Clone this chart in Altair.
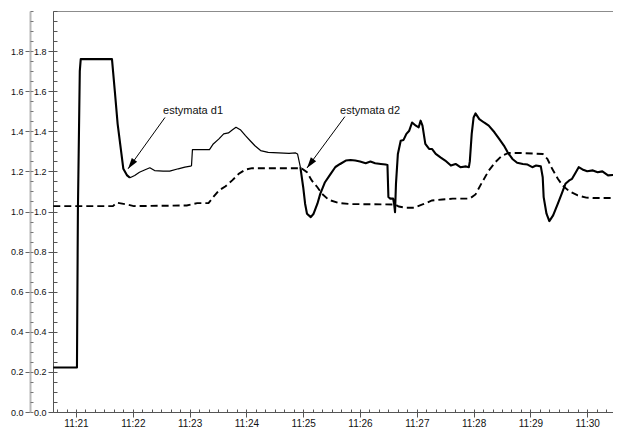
import math
import altair as alt
import pandas as pd

# ---------------- data ----------------
# solid line: estimate
solid_time = [
    "11:20:36", "11:21:01", "11:21:02", "11:21:04", "11:21:05", "11:21:38", "11:21:41", "11:21:44",
    "11:21:48", "11:21:50", "11:21:54", "11:21:57", "11:22:02", "11:22:07", "11:22:13", "11:22:18",
    "11:22:23", "11:22:32", "11:22:39", "11:22:48", "11:22:55", "11:23:01", "11:23:02", "11:23:03",
    "11:23:21", "11:23:25", "11:23:31", "11:23:36", "11:23:41", "11:23:45", "11:23:49", "11:23:54",
    "11:23:59", "11:24:04", "11:24:09", "11:24:15", "11:24:23", "11:24:34", "11:24:45", "11:24:52",
    "11:24:54", "11:24:57", "11:25:00", "11:25:02", "11:25:04", "11:25:08", "11:25:11", "11:25:15",
    "11:25:18", "11:25:23", "11:25:29", "11:25:34", "11:25:39", "11:25:45", "11:25:50", "11:25:55",
    "11:26:00", "11:26:06", "11:26:11", "11:26:16", "11:26:22", "11:26:27", "11:26:29", "11:26:30",
    "11:26:32", "11:26:35", "11:26:36", "11:26:37", "11:26:38", "11:26:40", "11:26:43", "11:26:46",
    "11:26:49", "11:26:52", "11:26:55", "11:26:59", "11:27:02", "11:27:04", "11:27:06", "11:27:09",
    "11:27:13", "11:27:16", "11:27:20", "11:27:25", "11:27:30", "11:27:36", "11:27:41", "11:27:46",
    "11:27:52", "11:27:55", "11:27:56", "11:27:58", "11:28:00", "11:28:02", "11:28:06", "11:28:11",
    "11:28:16", "11:28:22", "11:28:27", "11:28:32", "11:28:36", "11:28:41", "11:28:46", "11:28:52",
    "11:28:57", "11:29:02", "11:29:06", "11:29:11", "11:29:13", "11:29:14", "11:29:17", "11:29:20",
    "11:29:24", "11:29:29", "11:29:33", "11:29:37", "11:29:41", "11:29:44", "11:29:48", "11:29:51",
    "11:29:55", "11:30:00", "11:30:06", "11:30:11", "11:30:16", "11:30:22", "11:30:27", "11:30:32",
    "11:30:37",
]
solid_value = [
    0.222, 0.222, 1.00, 1.70, 1.760, 1.760, 1.600, 1.436,
    1.287, 1.213, 1.180, 1.168, 1.180, 1.196, 1.208, 1.218,
    1.204, 1.201, 1.201, 1.213, 1.221, 1.226, 1.228, 1.309,
    1.309, 1.337, 1.362, 1.387, 1.392, 1.406, 1.420, 1.406,
    1.378, 1.353, 1.328, 1.304, 1.295, 1.292, 1.290, 1.292,
    1.287, 1.221, 1.121, 1.039, 0.989, 0.972, 0.989, 1.039,
    1.088, 1.146, 1.188, 1.222, 1.237, 1.254, 1.257, 1.254,
    1.249, 1.241, 1.249, 1.241, 1.237, 1.234, 1.232, 1.072,
    1.064, 1.064, 1.039, 0.997, 1.138, 1.287, 1.353, 1.357,
    1.387, 1.403, 1.444, 1.428, 1.420, 1.453, 1.428, 1.337,
    1.312, 1.312, 1.287, 1.270, 1.254, 1.229, 1.237, 1.221,
    1.225, 1.221, 1.250, 1.387, 1.469, 1.489, 1.461, 1.444,
    1.428, 1.395, 1.362, 1.329, 1.295, 1.262, 1.243, 1.237,
    1.234, 1.221, 1.229, 1.225, 1.171, 1.072, 0.989, 0.952,
    0.981, 1.039, 1.088, 1.138, 1.155, 1.163, 1.196, 1.221,
    1.210, 1.201, 1.205, 1.196, 1.200, 1.180, 1.182, 1.184,
    1.171,
]
# the solid trace is drawn thinner between these two instants
thin_from, thin_to = "11:21:57", "11:24:57"

# dashed line
dash_time = [
    "11:20:36", "11:21:39", "11:21:43", "11:21:54", "11:22:01", "11:22:57", "11:23:08", "11:23:20",
    "11:23:25", "11:23:31", "11:23:38", "11:23:45", "11:23:52", "11:23:59", "11:24:06", "11:24:58",
    "11:25:04", "11:25:09", "11:25:15", "11:25:20", "11:25:27", "11:25:38", "11:25:50", "11:26:37",
    "11:26:41", "11:26:48", "11:26:57", "11:27:06", "11:27:16", "11:27:27", "11:27:38", "11:27:55",
    "11:27:57", "11:28:02", "11:28:09", "11:28:16", "11:28:23", "11:28:30", "11:28:37", "11:28:48",
    "11:29:13", "11:29:18", "11:29:23", "11:29:29", "11:29:34", "11:29:41", "11:29:50", "11:29:59",
    "11:30:09", "11:30:37",
]
dash_value = [
    1.027, 1.027, 1.044, 1.035, 1.027, 1.030, 1.042, 1.042,
    1.072, 1.105, 1.126, 1.155, 1.188, 1.209, 1.216, 1.216,
    1.196, 1.155, 1.121, 1.088, 1.058, 1.042, 1.037, 1.035,
    1.025, 1.019, 1.019, 1.035, 1.055, 1.060, 1.064, 1.064,
    1.068, 1.085, 1.146, 1.204, 1.246, 1.279, 1.292, 1.292,
    1.287, 1.262, 1.213, 1.163, 1.130, 1.101, 1.080, 1.069,
    1.067, 1.067,
]

y_major = [0.0, 0.2, 0.4, 0.6, 0.8, 1.0, 1.2, 1.4, 1.6, 1.8]
x_major = [21, 22, 23, 24, 25, 26, 27, 28, 29, 30]

ann_text = ["estymata d1", "estymata d2"]
ann_text_time = ["11:22:32", "11:25:39"]
ann_text_value = [1.485, 1.485]
arrow_from_time = ["11:22:34", "11:25:44"]
arrow_from_value = [1.469, 1.473]
arrow_to_time = ["11:21:55", "11:25:04"]
arrow_to_value = [1.213, 1.217]


def to_min(s):
    h, m, sec = (int(p) for p in s.split(":"))
    return (h - 11) * 60 + m + sec / 60.0


# ---------------- layout / style ----------------
# whole chart is 605 px wide (the page body width), so it is never shrunk
W, H = 560, 401
PX_PER_MIN = 56.8
X_DOM = [20.595, 20.595 + W / PX_PER_MIN]
Y_DOM = [0.0, 2.0]
FONT = "Liberation Sans"
OUTER_OFF = 23

xs = alt.Scale(domain=X_DOM, nice=False, zero=False)
ys = alt.Scale(domain=Y_DOM, nice=False, zero=False)

# solid data split into thick / thin parts
tf, tt = to_min(thin_from), to_min(thin_to)
rows = []
for t, v in zip(solid_time, solid_value):
    m = to_min(t)
    if m <= tf:
        rows.append({"t": m, "v": v, "part": "a", "w": 2.1})
    if tf <= m <= tt:
        rows.append({"t": m, "v": v, "part": "b", "w": 1.2})
    if m >= tt:
        rows.append({"t": m, "v": v, "part": "c", "w": 2.1})
df_solid = pd.DataFrame(rows)
df_dash = pd.DataFrame({"t": [to_min(t) for t in dash_time], "v": dash_value})

ppm = W / (X_DOM[1] - X_DOM[0])
ppu = H / (Y_DOM[1] - Y_DOM[0])
arr_rows = []
for t0, v0, t1, v1 in zip(arrow_from_time, arrow_from_value, arrow_to_time, arrow_to_value):
    a, b = to_min(t0), to_min(t1)
    dx = (b - a) * ppm
    dy = (v0 - v1) * ppu
    ang = math.degrees(math.atan2(dx, -dy)) % 360
    arr_rows.append({"t0": a, "v0": v0, "t1": b, "v1": v1, "ang": ang})
df_arr = pd.DataFrame(arr_rows)
df_txt = pd.DataFrame({"t": [to_min(t) for t in ann_text_time], "v": ann_text_value, "txt": ann_text})

y_minor = [round(i * 0.05, 2) for i in range(41)]
x_minor = [k / 6.0 for k in range(124, 184)]

AX = dict(grid=False, title=None, labelFont=FONT, labelColor="#111")

solid = alt.Chart(df_solid).mark_line(color="black", clip=True, strokeJoin="round").encode(
    x=alt.X("t:Q", scale=xs, axis=alt.Axis(orient="bottom", values=x_major,
                                          labelExpr="'11:' + datum.value", labelFontSize=10,
                                          tickSize=5, tickColor="#555", domainColor="#555",
                                          labelPadding=1, **AX)),
    y=alt.Y("v:Q", scale=ys, axis=alt.Axis(orient="left", values=y_major, format=".1f",
                                          labelFontSize=9, tickSize=5, tickColor="#555",
                                          domainColor="#555", labelPadding=2, **AX)),
    detail="part:N",
    strokeWidth=alt.StrokeWidth("w:Q", scale=None),
)

dashed = alt.Chart(df_dash).mark_line(color="black", clip=True, strokeDash=[7, 4], strokeWidth=1.9).encode(
    x=alt.X("t:Q", scale=xs, axis=alt.Axis(orient="top", ticks=False, labels=False,
                                          domainColor="#8c8c8c", **AX)),
    y=alt.Y("v:Q", scale=ys, axis=alt.Axis(orient="left", offset=OUTER_OFF, values=y_major,
                                          format=".1f", labelFontSize=9, tickSize=5,
                                          tickColor="#666", domainColor="#b8b8b8",
                                          domainWidth=2, labelPadding=2, **AX)),
)

rules = alt.Chart(df_arr).mark_rule(color="black", strokeWidth=1).encode(
    x=alt.X("t0:Q", scale=xs, axis=alt.Axis(orient="top", offset=-H, values=x_minor, labels=False,
                                           domain=False, tickSize=3, tickColor="#555", **AX)),
    x2="t1:Q",
    y=alt.Y("v0:Q", scale=ys, axis=alt.Axis(orient="right", offset=-W, values=y_minor, labels=False,
                                           domain=False, tickSize=4, tickColor="#555", **AX)),
    y2="v1:Q",
)

heads = alt.Chart(df_arr).mark_point(shape="M0,0L0.6,2L-0.6,2Z", filled=True, size=120,
                                     color="black", opacity=1).encode(
    x=alt.X("t1:Q", scale=xs, axis=None),
    y=alt.Y("v1:Q", scale=ys, axis=alt.Axis(orient="right", offset=-(W + OUTER_OFF), values=y_minor,
                                           labels=False, domain=False, tickSize=3,
                                           tickColor="#777", **AX)),
    angle=alt.Angle("ang:Q", scale=None),
)

texts = alt.Chart(df_txt).mark_text(align="left", baseline="alphabetic", font=FONT, fontSize=11,
                                    color="#111").encode(
    x=alt.X("t:Q", scale=xs, axis=None),
    y=alt.Y("v:Q", scale=ys, axis=None),
    text="txt:N",
)

chart = alt.layer(solid, dashed, rules, heads, texts).resolve_scale(
    x="independent", y="independent"
).properties(
    width=W, height=H,
    padding={"left": 45, "top": 3, "right": 0, "bottom": 16},
    autosize=alt.AutoSizeParams(type="none"),
).configure_view(stroke=None).configure(background="white")

chart.save("out.html", embed_options={"renderer": "svg", "actions": False})
